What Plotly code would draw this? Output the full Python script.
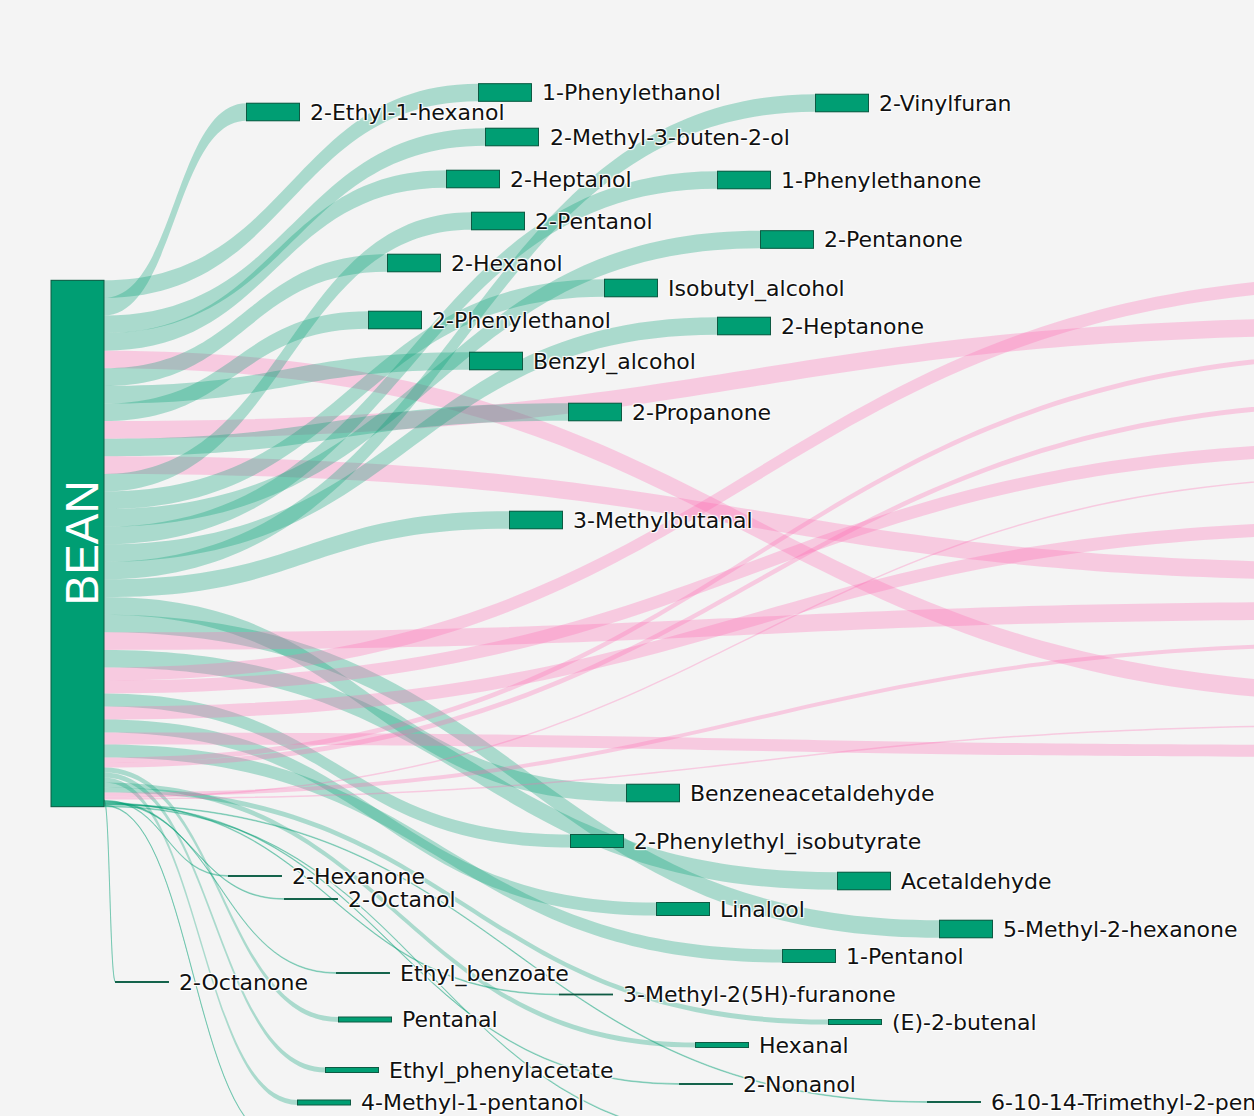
import plotly.graph_objects as go

# ---------------- data ----------------
source_label = "BEAN"

# compounds, listed in the order their links leave the BEAN node (top -> bottom)
target_labels = [
    "1-Phenylethanol", "2-Ethyl-1-hexanol", "2-Methyl-3-buten-2-ol", "2-Heptanol", "",
    "2-Hexanol", "Benzyl_alcohol", "2-Phenylethanol", "", "2-Propanone", "",
    "2-Pentanol", "Isobutyl_alcohol", "2-Pentanone", "1-Phenylethanone", "2-Heptanone",
    "2-Vinylfuran", "3-Methylbutanal", "Benzeneacetaldehyde", "5-Methyl-2-hexanone", "",
    "Acetaldehyde", "", "", "2-Phenylethyl_isobutyrate", "", "Linalool", "", "1-Pentanol",
    "", "", "Pentanal", "Ethyl_phenylacetate", "4-Methyl-1-pentanol", "Hexanal",
    "(E)-2-butenal", "", "", "", "2-Octanone", "2-Hexanone", "2-Octanol", "Ethyl_benzoate",
    "3-Methyl-2(5H)-furanone", "2-Nonanol", "6-10-14-Trimethyl-2-pentadecanone", "", "",
]
target_values = [
    17.6, 17.6, 17.6, 17.6, 17.6,
    17.6, 17.6, 17.6, 17.6, 17.6, 17.6,
    17.6, 17.6, 17.6, 17.6, 17.6,
    17.6, 17.6, 17.6, 17.6, 17.6,
    17.6, 13, 13, 13, 13, 13, 12, 13,
    5, 5, 5, 5, 5, 5,
    5, 4, 1.5, 1.5, 0.8, 0.8, 0.8, 0.8,
    0.8, 0.8, 0.8, 0.8, 0.8,
]
# 'g' = compound linked in green, 'p' = compound linked in pink
target_group = [
    "g", "g", "g", "g", "p",
    "g", "g", "g", "p", "g", "p",
    "g", "g", "g", "g", "g",
    "g", "g", "g", "g", "p",
    "g", "p", "p", "g", "p", "g", "p", "g",
    "p", "p", "g", "g", "g", "g",
    "g", "p", "p", "p", "g", "g", "g", "g",
    "g", "g", "g", "g", "g",
]

# ---------------- layout (node placement: page pixels of node centres) ----------------
W, H = 1700, 1250
source_center = (77.5, 543.5)
target_pos = [
    (505, 92.5), (273, 112), (512, 137), (473, 179), (1427, 694),
    (414, 263), (496, 361), (395, 320), (1427, 326), (595, 412), (1427, 572),
    (498, 221), (631, 288), (787, 239.5), (744, 180), (744, 326),
    (842, 103), (536, 520), (653, 793), (966, 929), (1427, 610.5),
    (864, 881), (1427, 281), (1427, 448), (597, 841), (1427, 527), (683, 909), (1427, 751), (809, 956),
    (1427, 354), (1427, 402.5), (365, 1019.5), (352, 1070), (324, 1102.5), (722, 1045),
    (855, 1022), (1427, 644), (1427, 476), (1427, 725), (142, 982), (255, 876), (311, 899), (363, 973),
    (586, 994.5), (706, 1084), (954, 1102), (308, 1140), (780, 1140),
]

GREEN = "#009E73"
GREEN_LINK = "rgba(0,158,115,0.3)"
PINK = "#FF69B4"
PINK_LINK = "rgba(255,105,180,0.3)"
NODE_LINE = "#0E5A43"
THICK = 53
FONT = dict(family="DejaVu Sans", size=22, color="#111111")

n_t = len(target_labels)
total = sum(target_values)
pad = (H - total) / (n_t - 1)   # makes 1 value unit = 1 pixel

tx = [p[0] / W for p in target_pos]
ty = [p[1] / H for p in target_pos]
t_color = [GREEN if g == "g" else PINK for g in target_group]
l_color = [GREEN_LINK if g == "g" else PINK_LINK for g in target_group]

# --- trace 1: the coloured links. BEAN is split into one slice per link so
#     that the links leave it in the listed order.
bean_top = source_center[1] - total / 2
src_x, src_y = [], []
cum = 0.0
for v in target_values:
    src_x.append(source_center[0] / W)
    src_y.append((bean_top + cum + v / 2) / H)
    cum += v

links_trace = go.Sankey(
    arrangement="fixed",
    hoverinfo="skip",
    node=dict(
        label=[""] * (2 * n_t),
        x=src_x + tx, y=src_y + ty,
        color=[GREEN] * n_t + t_color,
        pad=pad, thickness=THICK,
        line=dict(color=GREEN, width=0),
    ),
    link=dict(
        source=list(range(n_t)),
        target=list(range(n_t, 2 * n_t)),
        value=target_values,
        color=l_color,
    ),
    textfont=FONT,
)

# --- trace 2: the nodes (single BEAN bar) with outlines and labels
nodes_trace = go.Sankey(
    arrangement="fixed",
    node=dict(
        label=[""] + ["\u00a0" + l if l else "" for l in target_labels],
        x=[source_center[0] / W] + tx,
        y=[source_center[1] / H] + ty,
        color=[GREEN] + t_color,
        pad=pad, thickness=THICK,
        line=dict(color=NODE_LINE, width=1),
    ),
    link=dict(
        source=[0] * n_t,
        target=list(range(1, n_t + 1)),
        value=target_values,
        color="rgba(0,0,0,0)",
    ),
    textfont=FONT,
)

fig = go.Figure([links_trace, nodes_trace])

fig.add_annotation(
    x=81 / W, y=1 - source_center[1] / H, xref="paper", yref="paper",
    text=source_label, showarrow=False, textangle=-90,
    font=dict(family="Liberation Sans", size=46, color="white"),
    xanchor="center", yanchor="middle",
)

fig.update_layout(
    width=W, height=H,
    margin=dict(l=0, r=0, t=0, b=0),
    paper_bgcolor="#F4F4F4",
    plot_bgcolor="#F4F4F4",
)

fig.write_html("out.html", post_script="document.body.style.margin='0px';")
